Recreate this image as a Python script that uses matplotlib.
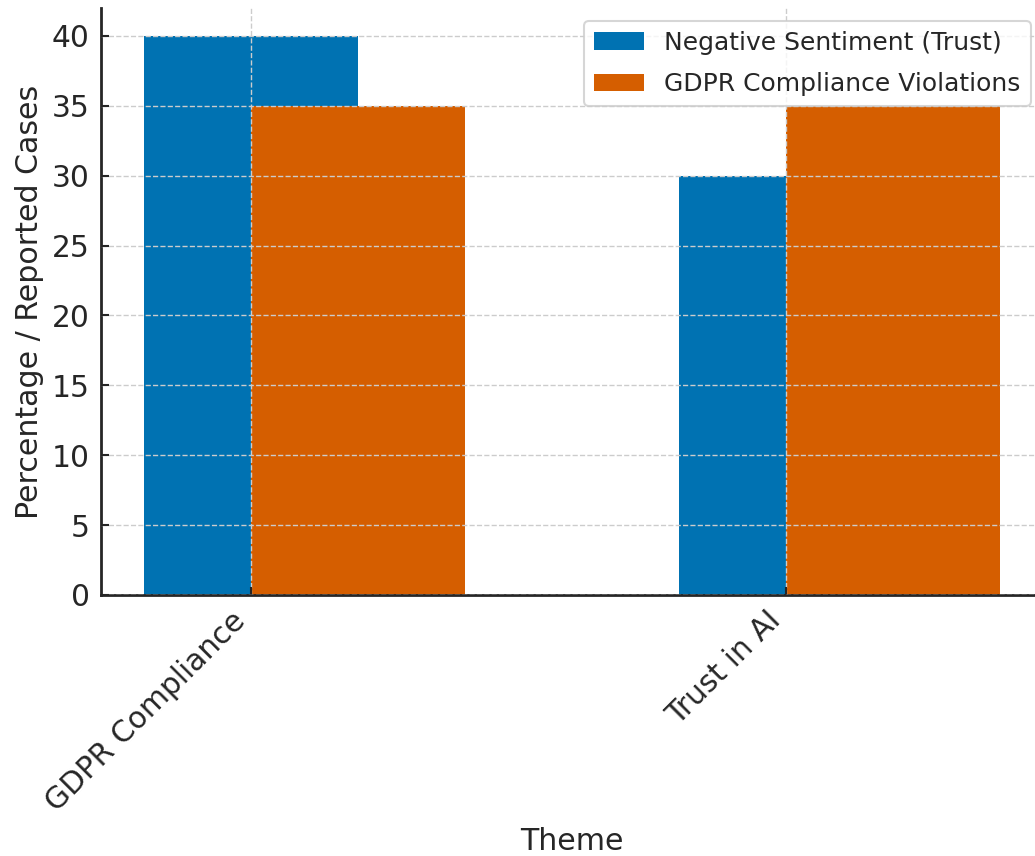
import numpy as np
import matplotlib
matplotlib.use("Agg")
import matplotlib.pyplot as plt

themes = ["GDPR Compliance", "Trust in AI"]
negative_sentiment = [40, 30]
gdpr_violations = [35, 35]
series_labels = ["Negative Sentiment (Trust)", "GDPR Compliance Violations"]

blue = "#0072B2"
orange = "#D55E00"
text_color = "#262626"

fig = plt.figure(figsize=(10.35, 8.56), dpi=100)
ax = fig.add_axes([101 / 1035, 261 / 856, (1043 - 101) / 1035, 587 / 856])

x = np.arange(len(themes))
width = 0.4
ax.bar(x, negative_sentiment, width, color=blue, label=series_labels[0], zorder=1)
ax.bar(x + width / 2, gdpr_violations, width, color=orange, label=series_labels[1], zorder=1)

ax.set_xticks(x)
ax.set_xticklabels(themes, rotation=45, ha="right")
ax.set_xlabel("Theme", fontsize=21.6, color=text_color, labelpad=7)
ax.set_ylabel("Percentage / Reported Cases", fontsize=21.6, color=text_color, labelpad=6)

ax.tick_params(axis="both", direction="in", length=6, width=1.5, labelsize=21.4,
               colors=text_color, pad=8)
ax.grid(True, linestyle="--", color="#cccccc", linewidth=1.0, zorder=2)
ax.set_axisbelow(False)

for side in ("top", "right"):
    ax.spines[side].set_visible(False)
for side in ("left", "bottom"):
    ax.spines[side].set_linewidth(2)
    ax.spines[side].set_color(text_color)

leg = ax.legend(loc="upper right", fontsize=18, frameon=True, borderaxespad=0.5,
                handlelength=2.0, handletextpad=0.8, labelspacing=0.7)
for t in leg.get_texts():
    t.set_color(text_color)
leg.get_frame().set_edgecolor("#cccccc")
leg.get_frame().set_linewidth(1.5)

fig.savefig("out.png", dpi=100)
